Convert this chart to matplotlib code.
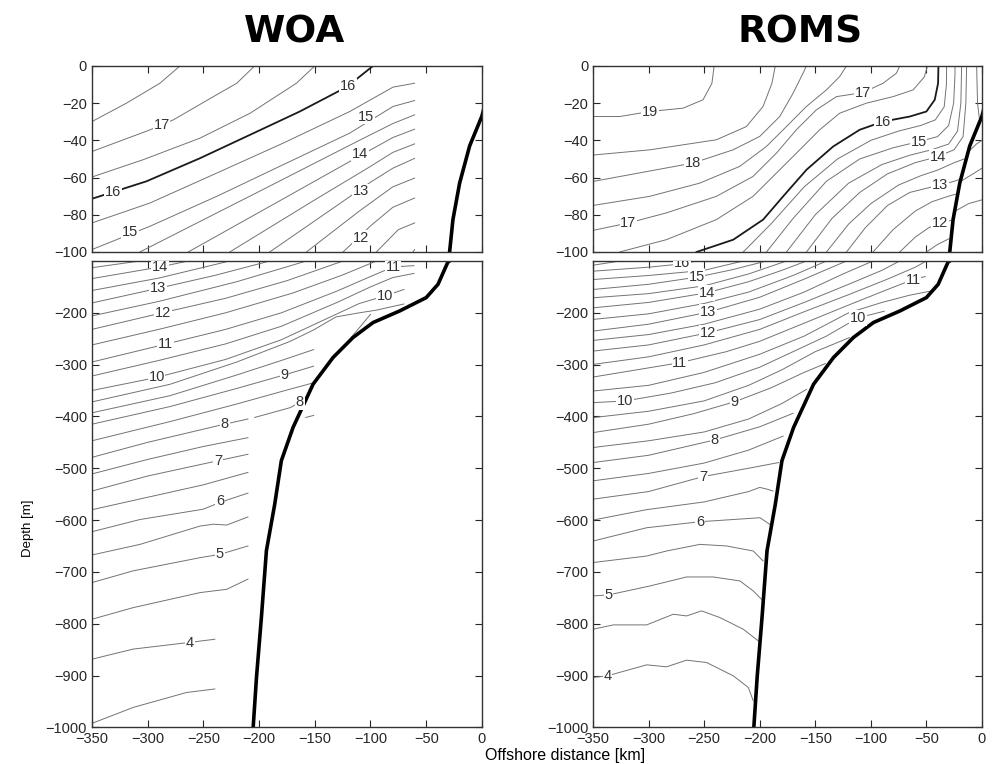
import numpy as np
import matplotlib
matplotlib.use("Agg")
import matplotlib.pyplot as plt

nan = np.nan
plt.rcParams['font.family'] = ['Liberation Sans', 'DejaVu Sans']

# ---- isotherms, each (temperature, offshore distance [km], depth [m]) ----
woa_top = [
    (17.5, [-350, -319, -289, -271], [-29.9, -20, -9.3, 0]),
    (17.0, [-350, -298, -277, -241, -220, -204], [-46, -34.4, -29, -16.5, -9.3, 0]),
    (16.5, [-350, -304, -253, -208, -166.5, -150], [-59.7, -50.4, -38.8, -25.4, -9.3, 0]),
    (16.0, [-350, -301, -253, -208, -163.5, -121.6, -97.7], [-71.4, -62, -49.6, -37, -24.5, -11.4, 0]),
    (15.5, [-350, -298, -238, -178.4, -118.6, -79.8, -60.4], [-84.4, -73.7, -57.6, -41.5, -24.5, -11.4, -9.3]),
    (15.0, [-350, -298, -238, -178.4, -118.6, -79.8, -60.4], [-98.7, -86.2, -70.1, -53.1, -36.1, -21.8, -18.6]),
    (14.5, [-307, -200, -110, -80, -60.4], [-100, -67.5, -40, -31, -26.3]),
    (14.0, [-263.6, -180, -110, -80, -60.4], [-100, -72, -48.5, -38.5, -34]),
    (13.5, [-226.3, -150, -100, -80, -60.4], [-100, -72, -54, -46.5, -41.9]),
    (13.0, [-190.4, -130, -100, -80, -60.4], [-100, -75, -62.5, -55, -49.7]),
    (12.5, [-157.5, -110, -80, -60.4], [-100, -78, -65, -60.3]),
    (12.0, [-124.6, -100, -80, -60.4], [-100, -86, -76, -71]),
    (11.5, [-94.7, -75, -60.4], [-100, -88, -84.4]),
    (11.0, [-61.9, -60.4], [-100, -98.7]),
]

woa_bot = [
    (14.5, [-350, -307], [-113, -100]),
    (14.0, [-350, -289, -263.6], [-134, -111.6, -100]),
    (13.5, [-350, -290, -226.3], [-157, -133, -100]),
    (13.0, [-350, -290.5, -240, -190.4], [-181, -152.7, -128, -100]),
    (12.5, [-350, -290, -220, -157.5], [-206, -178, -140, -100]),
    (12.0, [-350, -286, -230, -175, -124.6], [-232, -199.6, -172, -138, -100]),
    (11.5, [-350, -290, -230, -170, -125, -94.7], [-262, -232, -200, -162, -127, -100]),
    (11.0, [-350, -284, -230, -180, -130, -100, -79.8, -61], [-295, -260.6, -232, -200, -158, -130, -111.6, -109]),
    (10.5, [-350, -290, -230, -180, -130, -100, -80, -61], [-322, -292, -260, -226, -180, -150, -132, -124]),
    (10.0, [-350, -292, -230, -180, -140, -110, -87.3, -70], [-350, -324.8, -290, -252, -212, -182, -167.5, -155]),
    (9.5, [-350, -280, -220, -172, -151, -131, -110, -95, -70, nan, -117.5, -100],
          [-372, -338, -295, -255, -233, -208, -200, -195, -183, nan, -248, -203]),
    (9.5, [-350, -280, -220, -180, -151], [-393, -360, -320, -292, -271]),
    (9.0, [-350, -280, -220, -177, -151], [-415, -381, -346, -319.7, -303]),
    (8.5, [-350, -280, -220, -180, -151], [-447, -410, -376, -352, -335]),
    (8.0, [-350, -300, -230.7, -210, nan, -204, -172, -163.5, -158],
          [-479, -450, -414.8, -405, nan, -402, -383, -373, -371]),
    (8.0, [-158, -151], [-402, -398]),
    (7.5, [-350, -300, -250, -210], [-511, -483, -458, -441]),
    (7.0, [-350, -300, -236.7, -210], [-544, -515, -485.4, -473]),
    (6.5, [-350, -300, -250, -210], [-580, -556, -532, -508]),
    (6.0, [-350, -307, -250, -235.2, -210], [-622.5, -599, -579, -566, -548]),
    (5.5, [-350, -307, -253, -241, -229, -210], [-667.4, -647, -611.6, -608, -609.6, -594]),
    (5.0, [-350, -313, -253, -235.2, -210], [-720.7, -698, -672.6, -666.2, -650]),
    (4.5, [-350, -313, -253, -229, -210], [-791.4, -769, -740, -733.6, -714]),
    (4.0, [-350, -313, -262, -239.7], [-868.5, -849, -836, -830]),
    (3.5, [-350, -313, -265, -239.7], [-992.4, -961.6, -932.7, -926]),
]

roms_top = [
    (19.0, [-350, -326, -299, -269, -251, -243, -241], [-27.2, -27.2, -24.5, -22.7, -18.2, -9.3, 0]),
    (18.5, [-350, -299, -239, -212, -197, -189, -186], [-47.9, -45.1, -39.7, -32.6, -21.8, -9.3, 0]),
    (18.0, [-350, -260, -224, -200, -182, -170, -161, -158], [-62.1, -52.2, -45.1, -37.9, -27.2, -14.7, -3.9, 0]),
    (17.5, [-350, -299, -254, -218, -194, -176, -158, -140, -128, -122],
           [-75, -70.1, -63, -54, -43.3, -32.6, -21.8, -12.9, -5.7, 0]),
    (17.0, [-350, -318, -284, -239, -206, -185, -167, -149, -131, -107, -89, -77, -74],
           [-88.4, -84.4, -79, -70.1, -59.4, -46.9, -34.3, -23.6, -16.5, -14.3, -9.3, -3.9, 0]),
    (16.5, [-326, -284, -239, -206, -185, -164, -146, -128, -104, -80, -62, -52, -49],
           [-100, -93.4, -82.6, -70.1, -57.6, -45.1, -34.3, -25.4, -20, -16.5, -12.9, -6, 0]),
    (16.0, [-256.8, -223.8, -196.9, -178.9, -157.9, -133.9, -110, -89, -65, -50, -42.5, -39.5, -39.2],
           [-100, -93.4, -82.6, -70.1, -55.8, -43.3, -34.3, -29.9, -27.2, -24.5, -18.2, -9.3, 0]),
    (15.5, [-214.8, -190, -160, -130, -100, -75, -55, -42, -34, -32, -31.8],
           [-100, -85, -65, -50, -40, -35, -32, -29, -22, -10, 0]),
    (15.0, [-193.9, -170, -140, -110, -80, -57, -40, -30, -25.5, -24.3, -24.3],
           [-100, -82, -62, -50, -44, -40.7, -38, -32, -20, -5, 0]),
    (14.5, [-175.9, -150, -120, -90, -65, -45, -30, -22, -19, -18.3],
           [-100, -80, -63, -53, -48, -45, -42, -35, -20, 0]),
    (14.0, [-157.9, -135, -110, -85, -60, -40, -25, -17, -14.5, -13.8],
           [-100, -82, -68, -58, -52, -48.8, -45, -38, -20, 0]),
    (13.5, [-139.9, -120, -100, -75, -55, -40, -25, -16], [-100, -85, -74, -64, -59, -56, -52, -50]),
    (13.0, [-121.9, -105, -85, -65, -38, -25, -20], [-100, -87, -75, -68, -64, -62, -61]),
    (12.5, [-98, -80, -60, -45, -30, -24], [-100, -88, -78, -73, -70, -69]),
    (12.0, [-74, -60, -48, -38, -28], [-100, -92, -87, -84.5, -83]),
    (11.5, [-50, -40, -30], [-100, -96, -93]),
    (13.5, [-4.8, -4, -2], [0, -20, -30]),
    (13.0, [-12, -5, 0], [-46, -42, -40]),
    (12.5, [-19, -8, 0], [-62, -58, -55]),
    (12.0, [-24, -12, 0], [-78, -74, -72]),
]

roms_bot = [
    (16.5, [-350, -325.7], [-108.2, -100]),
    (16.0, [-350, -300, -270, -256.8], [-119.7, -112, -105.6, -100]),
    (15.5, [-350, -300, -250, -214.8], [-135.8, -128, -118, -100]),
    (15.0, [-350, -300, -256.8, -225, -193.9], [-155, -145, -131.3, -117, -100]),
    (14.5, [-350, -300, -250, -210, -175.9], [-171, -163, -148, -125, -100]),
    (14.0, [-350, -300, -247.8, -210, -180, -157.9], [-190.4, -180, -161.5, -140, -118, -100]),
    (13.5, [-350, -300, -250, -210, -170, -139.9], [-212.8, -202, -182, -160, -128, -100]),
    (13.0, [-350, -300, -246.3, -200, -160, -121.9], [-235.3, -222, -198.7, -170, -135, -100]),
    (12.5, [-350, -300, -250, -200, -160, -125, -98], [-253.3, -242, -222, -193, -160, -125, -100]),
    (12.0, [-350, -300, -246.3, -200, -160, -120, -90, -74], [-273.9, -262, -238.5, -213, -180, -145, -118, -100]),
    (11.5, [-350, -300, -250, -200, -160, -120, -85, -60, -50], [-299.6, -285, -262, -232, -198, -165, -135, -112, -100]),
    (11.0, [-350, -271.8, -230, -200, -160, -120, -85, -62, -51], [-324, -296.3, -275, -255, -220, -185, -155, -135.8, -130]),
    (10.5, [-350, -300, -250, -200, -160, -120, -90, -65, -46], [-351, -340, -315, -280, -245, -200, -180, -166, -158]),
    (10.0, [-350, -321.2, -280, -240, -200, -170, -140, -111.4, -88], [-373.4, -370.2, -355, -335, -305, -275, -245, -209.6, -197]),
    (9.5, [-350, -300, -250, -210, -180, -150, -119.4], [-402.3, -390, -370, -340, -310, -275, -248]),
    (9.0, [-350, -300, -260, -222.3, -190, -160, -141], [-431.2, -415, -395, -371.5, -345, -315, -298]),
    (8.5, [-350, -300, -250, -210, -180, -158], [-460, -447, -430, -405, -375, -348]),
    (8.0, [-350, -300, -240.3, -200, -170], [-489, -475, -445.3, -420, -394]),
    (7.5, [-350, -300, -250, -210, -179], [-524.3, -510, -490, -465, -438]),
    (7.0, [-350, -300, -250.8, -210, -183], [-559.7, -545, -516, -500, -489]),
    (6.5, [-350, -302, -250, -210, -200, -194, -188], [-600, -580, -565, -545, -537, -540, -544]),
    (6.0, [-350, -301.7, -253.8, -199.8, -190.9], [-640.5, -614.8, -603.2, -595.5, -608.3]),
    (5.5, [-350, -301.7, -283.8, -253.8, -229.8, -205.8, -196.9], [-682, -669.4, -659.7, -646.9, -650, -659.7, -679]),
    (5.0, [-350, -336.2, -298.8, -265.8, -241.8, -217.8, -205.8, -198.4],
          [-746.4, -744.5, -727.2, -709.8, -709.8, -717.5, -736.8, -752.9]),
    (4.5, [-350, -331.7, -301.7, -277.8, -265.8, -252.3, -235.8, -214.8, -201.3],
          [-810.7, -802.3, -802.3, -781.8, -785, -775.3, -788.2, -810.7, -833.1]),
    (4.0, [-350, -337.1, -301.7, -283.8, -265.8, -247.8, -223.8, -210.3, -205.8],
          [-903.8, -900.6, -879.4, -883.2, -870.4, -874.9, -900.6, -923, -948.7]),
]

# ---- contour labels (text, x, depth) ----
woa_top_lab = [("17", -287.5, -31.7), ("16", -330.9, -68), ("16", -120.1, -10.7), ("15", -315.9, -89.4),
               ("15", -103.7, -27.2), ("14", -109.7, -47.2), ("13", -108.2, -67.4), ("12", -108.2, -92.5)]
woa_bot_lab = [("14", -289, -111.6), ("13", -290.5, -152.7), ("12", -286, -199.6), ("11", -284, -260.6),
               ("10", -292, -324.8), ("9", -177, -319.7), ("8", -163.5, -373), ("8", -230.7, -414.8),
               ("7", -236.7, -485.4), ("6", -235.2, -563.8), ("5", -235.2, -666.2), ("4", -262.1, -836.4),
               ("11", -79.8, -111.6), ("10", -87.3, -167.5)]
roms_top_lab = [("19", -298.8, -24.5), ("18", -259.8, -52.2), ("17", -318.2, -84.4), ("17", -107, -14.5),
                ("16", -89, -29.9), ("15", -57, -40.7), ("14", -40, -48.8), ("13", -38, -64), ("12", -38, -84.5)]
roms_bot_lab = [("16", -270, -104), ("15", -256.8, -131.3), ("14", -247.8, -161.5), ("13", -246.3, -198.7),
                ("12", -246.3, -238.5), ("11", -271.8, -296.3), ("10", -321.2, -370.2), ("9", -222.3, -371.5),
                ("8", -240.3, -445.3), ("7", -250.8, -516), ("6", -253.8, -603.2), ("5", -336.2, -744.5),
                ("4", -337.1, -900.6), ("11", -62, -135.8), ("10", -111.4, -209.6)]

# ---- shelf bathymetry ----
bathy_x = [3, 0, -11, -20, -26, -29, -30.5, -39.4, -50, -73.8, -97.7, -115.7, -133.6, -151.5,
           -169.5, -180, -186, -193.4, -197.9, -202.3, -205.3]
bathy_z = [-20, -27, -43, -63, -82.6, -100, -102, -145, -170.7, -196.4, -218.8, -247.7, -286.3, -337.7,
           -421.2, -485.4, -570, -658.9, -787.4, -903, -1000]

x_ticks = [-350, -300, -250, -200, -150, -100, -50, 0]
top_yticks = [0, -20, -40, -60, -80, -100]
bot_yticks = [-200, -300, -400, -500, -600, -700, -800, -900, -1000]


def draw(ax, lines, labels, ylim, yticks, xlabels):
    for t, xs, zs in lines:
        if t == 16.0 and ylim[1] == 0:
            ax.plot(xs, zs, color="0.1", lw=1.3)
        else:
            ax.plot(xs, zs, color="0.45", lw=0.7)
    ax.plot(bathy_x, bathy_z, color="k", lw=2.6, solid_joinstyle="miter")
    for s, x, z in labels:
        ax.text(x, z, s, fontsize=10.5, color="0.2", ha="center", va="center", clip_on=True,
                bbox=dict(boxstyle="square,pad=0.05", fc="white", ec="none"))
    ax.set_xlim(-350, 0)
    ax.set_ylim(*ylim)
    ax.set_xticks(x_ticks)
    ax.set_yticks(yticks)
    ax.tick_params(direction="in", top=True, right=True, length=5, labelsize=10.5, colors="0.15")
    if not xlabels:
        ax.set_xticklabels([])
    for sp in ax.spines.values():
        sp.set_linewidth(1.0)
        sp.set_color("0.2")


fig = plt.figure(figsize=(9.93, 7.64), dpi=100)
ax1 = fig.add_axes([0.0926, 0.6702, 0.3927, 0.2435])
ax2 = fig.add_axes([0.0926, 0.048, 0.3927, 0.6104])
ax3 = fig.add_axes([0.5972, 0.6702, 0.3917, 0.2435])
ax4 = fig.add_axes([0.5972, 0.048, 0.3917, 0.6104])

draw(ax1, woa_top, woa_top_lab, (-100, 0), top_yticks, False)
draw(ax2, woa_bot, woa_bot_lab, (-1000, -100), bot_yticks, True)
draw(ax3, roms_top, roms_top_lab, (-100, 0), top_yticks, False)
draw(ax4, roms_bot, roms_bot_lab, (-1000, -100), bot_yticks, True)

fig.text(0.297, 0.957, "WOA", fontsize=27, fontweight="bold", family="DejaVu Sans", ha="center", va="center")
fig.text(0.806, 0.957, "ROMS", fontsize=27, fontweight="bold", family="DejaVu Sans", ha="center", va="center")
fig.text(0.569, 0.011, "Offshore distance [km]", fontsize=11.5, ha="center", va="center")
fig.text(0.028, 0.309, "Depth [m]", fontsize=9.5, rotation=90, ha="center", va="center")

fig.savefig("out.png", dpi=100)
